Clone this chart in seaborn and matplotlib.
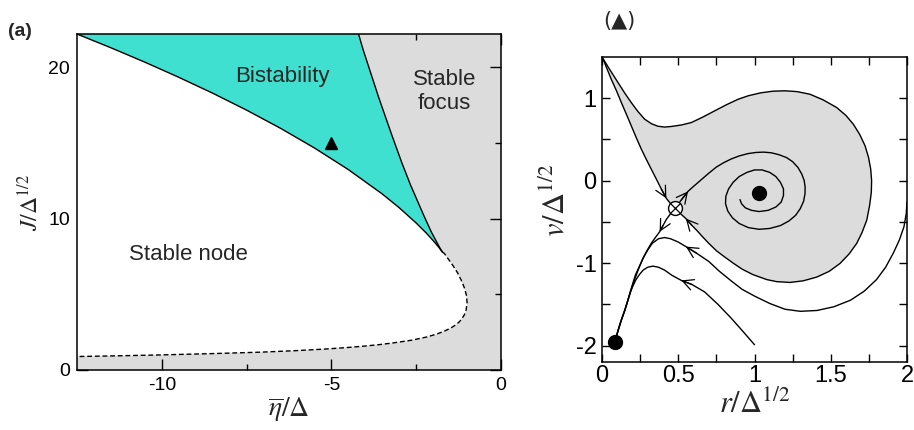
import matplotlib
matplotlib.use("Agg")
import matplotlib.pyplot as plt
import pandas as pd
import seaborn as sns

# ---------------- (a) phase diagram ----------------
# upper saddle-node branch, from the left edge down to the cusp
sn_upper_eta = [-12.5, -11.5, -10.5, -9.5, -8.5, -7.5, -6.5, -5.5, -4.5, -3.5,
                -3.0, -2.5, -2.2, -2.0, -1.85, -1.73]
sn_upper_J = [22.2, 21.29, 20.34, 19.34, 18.29, 17.17, 15.97, 14.67, 13.24, 11.63,
              10.72, 9.71, 9.04, 8.55, 8.15, 7.80]
# lower saddle-node branch, from the cusp up to the top edge
sn_lower_eta = [-1.73, -1.76, -1.83, -2.05, -2.29, -2.67, -2.92, -3.22, -3.60,
                -3.82, -4.07, -4.20]
sn_lower_J = [7.80, 7.90, 8.18, 9.10, 10.28, 12.24, 13.67, 15.53, 17.97,
              19.48, 21.2, 22.2]
# node / focus boundary (dashed), from the cusp to the left edge
nf_eta = [-1.73, -1.67, -1.42, -1.28, -1.17, -1.08, -1.02, -1.00, -1.03, -1.08,
          -1.16, -1.24, -1.35, -1.49, -1.67, -1.90, -2.21, -2.63, -3.21, -3.58,
          -4.02, -4.56, -5.22, -6.04, -7.07, -8.40, -10.16, -11.23, -12.5]
nf_J = [7.80, 7.70, 6.91, 6.42, 5.92, 5.43, 4.94, 4.44, 3.95, 3.65,
        3.36, 3.16, 2.96, 2.76, 2.57, 2.37, 2.17, 1.97, 1.78, 1.68,
        1.58, 1.48, 1.38, 1.28, 1.18, 1.09, 0.99, 0.94, 0.89]
# parameter point used for the phase portrait
marked_eta = [-5.0]
marked_J = [15.0]
region_labels = ["Bistability", "Stable\nfocus", "Stable node"]
region_pos = [(-6.45, 19.4), (-1.67, 18.4), (-9.2, 7.6)]

# ---------------- (▲) phase portrait ----------------
node_pt = (0.085, -1.96)
saddle_pt = (0.48, -0.33)
focus_pt = (1.03, -0.155)

# outer branch of the saddle's stable manifold (from the top-left corner)
outer_r = [0.0, 0.05, 0.105, 0.15, 0.192, 0.235, 0.28, 0.325, 0.367, 0.41,
           0.454, 0.52, 0.586, 0.66, 0.739, 0.815, 0.892, 0.96, 1.04, 1.12,
           1.20, 1.28, 1.364, 1.45, 1.539, 1.60, 1.648, 1.69, 1.725, 1.748,
           1.762, 1.768, 1.766, 1.755, 1.736, 1.705, 1.67, 1.62, 1.561, 1.49,
           1.408, 1.32, 1.233, 1.145, 1.08, 0.99, 0.92, 0.86, 0.80, 0.75,
           0.70, 0.664, 0.62, 0.588, 0.55, 0.52, 0.48]
outer_v = [1.50, 1.35, 1.19, 1.06, 0.947, 0.84, 0.745, 0.69, 0.66, 0.65,
           0.657, 0.675, 0.705, 0.77, 0.847, 0.92, 0.987, 1.03, 1.065, 1.085,
           1.09, 1.08, 1.048, 0.98, 0.887, 0.79, 0.685, 0.56, 0.423, 0.28,
           0.14, 0.0, -0.142, -0.30, -0.48, -0.63, -0.762, -0.89, -1.004, -1.10,
           -1.17, -1.215, -1.235, -1.225, -1.20, -1.14, -1.075, -1.0, -0.92, -0.85,
           -0.76, -0.69, -0.60, -0.54, -0.46, -0.41, -0.33]
# inner branch of the stable manifold (from the top-left corner)
inner_r = [0.0, 0.015, 0.03, 0.061, 0.095, 0.127, 0.16, 0.192, 0.225, 0.258,
           0.29, 0.323, 0.356, 0.389, 0.422, 0.45, 0.48]
inner_v = [1.50, 1.44, 1.37, 1.229, 1.09, 0.947, 0.805, 0.665, 0.52, 0.382,
           0.26, 0.14, 0.02, -0.102, -0.215, -0.28, -0.33]
# unstable manifold spiralling into the focus
spiral_r = [0.48, 0.52, 0.564, 0.60, 0.65, 0.70, 0.75, 0.80, 0.85, 0.90,
            0.957, 1.01, 1.06, 1.11, 1.16, 1.21, 1.25, 1.285, 1.31, 1.326,
            1.332, 1.331, 1.322, 1.30, 1.27, 1.225, 1.17, 1.10, 1.03, 0.96,
            0.90, 0.855, 0.825, 0.81, 0.812, 0.83, 0.86, 0.90, 0.95, 1.00,
            1.05, 1.10, 1.14, 1.17, 1.19, 1.19, 1.175, 1.14, 1.09, 1.03,
            0.98, 0.94, 0.915, 0.905]
spiral_v = [-0.33, -0.234, -0.13, -0.07, 0.01, 0.09, 0.165, 0.22, 0.265, 0.30,
            0.328, 0.342, 0.346, 0.338, 0.315, 0.28, 0.23, 0.16, 0.08, 0.0,
            -0.08, -0.16, -0.25, -0.34, -0.42, -0.49, -0.545, -0.58, -0.59, -0.57,
            -0.52, -0.45, -0.37, -0.28, -0.19, -0.10, -0.02, 0.05, 0.10, 0.13,
            0.13, 0.10, 0.05, -0.02, -0.10, -0.18, -0.26, -0.32, -0.36, -0.375,
            -0.36, -0.33, -0.28, -0.23]
# unstable manifold running down to the node
to_node_r = [0.48, 0.45, 0.422, 0.40, 0.378, 0.35, 0.323, 0.295, 0.269, 0.24,
             0.214, 0.19, 0.170, 0.15, 0.127, 0.11, 0.094, 0.085]
to_node_v = [-0.33, -0.40, -0.47, -0.545, -0.62, -0.69, -0.76, -0.85, -0.94, -1.07,
             -1.20, -1.33, -1.45, -1.57, -1.69, -1.79, -1.89, -1.96]
# two more orbits ending on the node
orbit1_r = [2.0, 1.995, 1.98, 1.95, 1.91, 1.86, 1.80, 1.72, 1.63, 1.52,
            1.41, 1.30, 1.20, 1.10, 1.00, 0.92, 0.85, 0.77, 0.70, 0.62,
            0.55, 0.50, 0.45, 0.41, 0.37, 0.33, 0.30, 0.27, 0.245, 0.22,
            0.203, 0.185, 0.170, 0.15, 0.127, 0.11, 0.094, 0.085]
orbit1_v = [-0.26, -0.40, -0.56, -0.72, -0.88, -1.05, -1.20, -1.34, -1.45, -1.53,
            -1.575, -1.585, -1.56, -1.49, -1.40, -1.32, -1.22, -1.10, -0.98, -0.88,
            -0.80, -0.745, -0.705, -0.69, -0.705, -0.76, -0.84, -0.94, -1.04, -1.14,
            -1.24, -1.35, -1.45, -1.57, -1.69, -1.79, -1.89, -1.96]
orbit2_r = [1.0, 0.92, 0.848, 0.76, 0.673, 0.59, 0.52, 0.46, 0.41, 0.37,
            0.334, 0.30, 0.27, 0.245, 0.22, 0.20, 0.185, 0.170, 0.15, 0.127,
            0.11, 0.094, 0.085]
orbit2_v = [-1.99, -1.82, -1.67, -1.50, -1.35, -1.26, -1.21, -1.15, -1.085, -1.05,
            -1.037, -1.05, -1.085, -1.14, -1.21, -1.29, -1.36, -1.45, -1.57, -1.69,
            -1.79, -1.89, -1.96]

TEAL = "#40e0d0"
GREY = "#dcdcdc"

sns.set_theme(style="ticks")
plt.rcParams.update({
    "font.family": ["Liberation Sans", "DejaVu Sans"],
    "mathtext.fontset": "stix",
    "axes.unicode_minus": False,
    "axes.linewidth": 1.1,
    "axes.edgecolor": "black",
    "xtick.direction": "in",
    "ytick.direction": "in",
    "xtick.top": True,
    "ytick.right": True,
    "xtick.color": "black",
    "ytick.color": "black",
})

fig = plt.figure(figsize=(9.14, 4.30), dpi=100)
ax1 = fig.add_axes([77 / 914, 60 / 430, 424 / 914, 336 / 430])
ax2 = fig.add_axes([602 / 914, 68 / 430, 305 / 914, 305 / 430])


def curve(ax, xs, ys, **kw):
    df = pd.DataFrame({"x": xs, "y": ys})
    sns.lineplot(data=df, x="x", y="y", ax=ax, sort=False, estimator=None,
                 color="black", **kw)


# ---- panel (a) ----
ax1.set_facecolor(GREY)
ax1.fill(sn_upper_eta + nf_eta[1:], sn_upper_J + nf_J[1:],
         color="white", lw=0, zorder=1)
ax1.fill(sn_upper_eta + sn_lower_eta[1:], sn_upper_J + sn_lower_J[1:],
         color=TEAL, lw=0, zorder=1)
curve(ax1, sn_upper_eta, sn_upper_J, lw=1.0, zorder=3)
curve(ax1, sn_lower_eta, sn_lower_J, lw=1.0, zorder=3)
curve(ax1, nf_eta, nf_J, lw=1.0, linestyle=(0, (3.5, 2.0)), zorder=3)
ax1.plot(marked_eta, marked_J, marker="^", color="black", ms=9, ls="none", zorder=4)
for txt, (x, y) in zip(region_labels, region_pos):
    ax1.text(x, y, txt, ha="center", va="center", fontsize=16,
             linespacing=1.2, zorder=5)

ax1.set_xlim(-12.5, 0)
ax1.set_ylim(0, 22.2)
ax1.set_xticks([-10, -5, 0])
ax1.set_xticks([-7.5, -2.5], minor=True)
ax1.set_yticks([0, 10, 20])
ax1.set_yticks([5, 15], minor=True)
ax1.tick_params(which="major", length=8, width=1.0, labelsize=14, pad=5)
ax1.tick_params(which="minor", length=4.5, width=1.0)
ax1.set_xlabel(r"$\overline{\eta}/\Delta$", fontsize=20)
ax1.set_ylabel(r"$J/\Delta^{1/2}$", fontsize=17)
ax1.xaxis.set_label_coords(0.5, -0.075)
ax1.yaxis.set_label_coords(-0.08, 0.5)

# ---- panel (▲) ----
ax2.fill(outer_r + inner_r[::-1], outer_v + inner_v[::-1],
         color=GREY, lw=0, zorder=1)
for xs, ys in [(outer_r, outer_v), (inner_r, inner_v), (spiral_r, spiral_v),
               (to_node_r, to_node_v), (orbit1_r, orbit1_v), (orbit2_r, orbit2_v)]:
    curve(ax2, xs, ys, lw=1.0, zorder=3)

# direction arrows: head placed at point i+1 of a curve
arrow_spots = [(inner_r, inner_v, 13), (spiral_r, spiral_v, 1),
               (outer_r, outer_v, 53), (to_node_r, to_node_v, 3),
               (orbit1_r, orbit1_v, 19), (orbit2_r, orbit2_v, 5)]
for xs, ys, i in arrow_spots:
    ax2.annotate("", xy=(xs[i + 1], ys[i + 1]), xytext=(xs[i], ys[i]),
                 arrowprops=dict(arrowstyle="->,head_length=0.55,head_width=0.28",
                                 lw=0.9, color="black", shrinkA=0, shrinkB=0,
                                 mutation_scale=14), zorder=4)

ax2.plot([node_pt[0]], [node_pt[1]], "o", color="black", ms=10, zorder=5)
ax2.plot([focus_pt[0]], [focus_pt[1]], "o", color="black", ms=10, zorder=5)
ax2.plot([saddle_pt[0]], [saddle_pt[1]], "o", mfc="white", mec="black", mew=1.0,
         ms=10, zorder=5)
ax2.plot([saddle_pt[0]], [saddle_pt[1]], "x", color="black", mew=0.9, ms=7, zorder=6)

ax2.set_xlim(0, 2)
ax2.set_ylim(-2.2, 1.5)
ax2.set_xticks([0, 0.5, 1, 1.5, 2])
ax2.set_xticklabels(["0", "0.5", "1", "1.5", "2"])
ax2.set_xticks([0.25, 0.75, 1.25, 1.75], minor=True)
ax2.set_yticks([-2, -1, 0, 1])
ax2.set_yticklabels(["-2", "-1", "0", "1"])
ax2.set_yticks([-1.5, -0.5, 0.5], minor=True)
ax2.tick_params(which="both", length=6, width=1.0)
ax2.tick_params(which="major", labelsize=17)
ax2.tick_params(axis="x", which="major", pad=2)
ax2.tick_params(axis="y", which="major", pad=4)
ax2.set_xlabel(r"$r/\Delta^{1/2}$", fontsize=22)
ax2.set_ylabel(r"$v/\Delta^{1/2}$", fontsize=22)
ax2.xaxis.set_label_coords(0.5, -0.09)
ax2.yaxis.set_label_coords(-0.10, 0.53)

fig.text(8 / 914, 1 - 31 / 430, "(a)", fontsize=14, fontweight="bold", va="center")
fig.text(603 / 914, 1 - 21 / 430, "(\u25b2)", fontsize=15, va="center",
         family=["DejaVu Sans"])

fig.savefig("out.png", dpi=100)
